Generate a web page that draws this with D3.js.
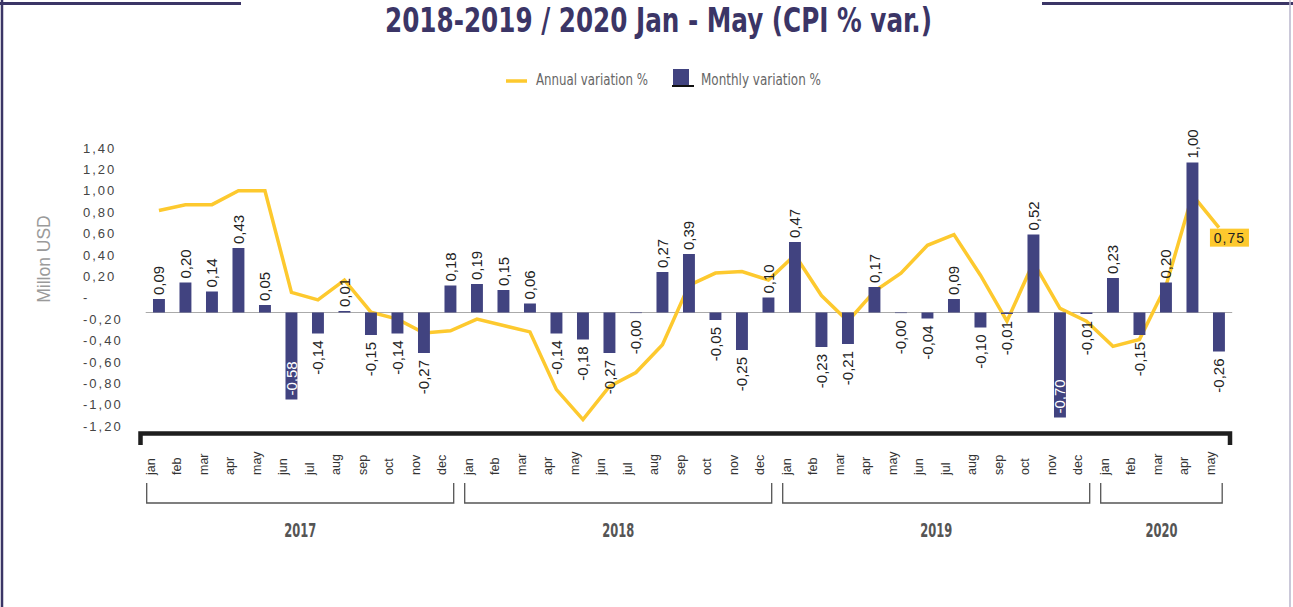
<!DOCTYPE html>
<html>
<head>
<meta charset="utf-8">
<script src="https://cdn.jsdelivr.net/npm/d3@7"></script>
<style>
  body { margin: 0; background: #fff; }
  svg { display: block; }
</style>
</head>
<body>
<script>
// Chart data
const years = ["2017", "2018", "2019", "2020"];
const monthNames = ["jan", "feb", "mar", "apr", "may", "jun", "jul", "aug", "sep", "oct", "nov", "dec"];
const monthsPerYear = [12, 12, 12, 5];

// Monthly variation % (bars)
const monthlyVar = [
    0.09, 0.20, 0.14, 0.43, 0.05, -0.58, -0.14, 0.01, -0.15, -0.14, -0.27, 0.18,
    0.19, 0.15, 0.06, -0.14, -0.18, -0.27, -0.004, 0.27, 0.39, -0.05, -0.25, 0.10,
    0.47, -0.23, -0.21, 0.17, -0.004, -0.04, 0.09, -0.10, -0.01, 0.52, -0.70, -0.01,
    0.23, -0.15, 0.20, 1.00, -0.26
];

// Annual variation % (line)
const annualVar = [
    0.815, 0.87, 0.87, 1.00, 1.00, 0.05, -0.02, 0.165, -0.135, -0.20, -0.33, -0.31,
    -0.20, -0.26, -0.32, -0.86, -1.14, -0.83, -0.70, -0.44, 0.115, 0.23, 0.245, 0.165,
    0.40, 0.02, -0.22, 0.06, 0.23, 0.49, 0.59, 0.21, -0.22, 0.33, -0.10, -0.22,
    -0.455, -0.39, 0.11, 0.96, 0.655
];

const yTicks = [1.4, 1.2, 1.0, 0.8, 0.6, 0.4, 0.2, 0, -0.2, -0.4, -0.6, -0.8, -1.0, -1.2];
const lastAnnualLabel = "0,75";

const titleText = "2018-2019 / 2020 Jan - May (CPI % var.)";
const yTitle = "Millon USD";
const legendAnnual = "Annual variation %";
const legendMonthly = "Monthly variation %";

const purple = "#3b3566";
const barColor = "#414380";
const lineColor = "#fdc92e";
const narrow = "'Liberation Sans Narrow', 'DejaVu Sans Condensed', sans-serif";
const sans = "'Liberation Sans', Arial, sans-serif";

// Build period list
const periods = years.flatMap((y, yi) =>
    monthNames.slice(0, monthsPerYear[yi]).map(m => ({ year: y, month: m })));

const fmt = v => (v < 0 ? "-" : "") + Math.abs(v).toFixed(2).replace(".", ",");

const svg = d3.select("body").append("svg")
    .attr("width", 1293)
    .attr("height", 607);

// Frame
svg.append("path").attr("d", "M0,3.5H241").attr("stroke", purple).attr("stroke-width", 3);
svg.append("path").attr("d", "M1042,3.5H1293").attr("stroke", purple).attr("stroke-width", 3);
svg.append("path").attr("d", "M2,0V607").attr("stroke", purple).attr("stroke-width", 2.5);
svg.append("path").attr("d", "M1290,0V607").attr("stroke", "#b8b6cc").attr("stroke-width", 1.5);

// Title
svg.append("text")
    .attr("x", 658.5)
    .attr("y", 32)
    .attr("text-anchor", "middle")
    .attr("textLength", 547)
    .attr("lengthAdjust", "spacingAndGlyphs")
    .style("font-family", narrow)
    .style("font-weight", "bold")
    .style("font-size", "33px")
    .style("fill", purple)
    .text(titleText);

// Legend
const legend = svg.append("g").style("font-family", narrow).style("font-size", "15px").style("fill", "#666");
legend.append("line").attr("x1", 506).attr("x2", 527).attr("y1", 81).attr("y2", 81)
    .attr("stroke", lineColor).attr("stroke-width", 3.5);
legend.append("text").attr("x", 536).attr("y", 85)
    .attr("textLength", 112).attr("lengthAdjust", "spacingAndGlyphs")
    .text(legendAnnual);
legend.append("rect").attr("x", 673).attr("y", 69).attr("width", 16).attr("height", 16).attr("fill", barColor);
legend.append("line").attr("x1", 672).attr("x2", 694).attr("y1", 86).attr("y2", 86)
    .attr("stroke", "#111").attr("stroke-width", 2);
legend.append("text").attr("x", 701).attr("y", 85)
    .attr("textLength", 120).attr("lengthAdjust", "spacingAndGlyphs")
    .text(legendMonthly);

// Scales
const x = d3.scaleBand()
    .domain(d3.range(periods.length))
    .range([145.7, 1232.2])
    .paddingInner(0.55)
    .paddingOuter(0.275);
const cx = i => x(i) + x.bandwidth() / 2;

const yBar = d3.scaleLinear().domain([-1, 1]).range([462.5, 162.5]);
const yLine = d3.scaleLinear().domain([-1.2, 1.4]).range([426, 148]);

// Y axis (left)
const yAxis = svg.append("g")
    .attr("transform", "translate(83,0)")
    .call(d3.axisLeft(yLine)
        .tickValues(yTicks)
        .tickSize(0)
        .tickFormat(d => d === 0 ? "-" : fmt(d)));
yAxis.select(".domain").remove();
yAxis.selectAll("text")
    .attr("x", 0)
    .style("text-anchor", "start")
    .style("font-family", sans)
    .style("font-size", "13px")
    .style("letter-spacing", "2px")
    .style("fill", "#444");

// Y axis title
svg.append("text")
    .attr("transform", "translate(50,259) rotate(-90)")
    .attr("text-anchor", "middle")
    .style("font-family", sans)
    .style("font-size", "17.5px")
    .style("fill", "#9a9a9a")
    .text(yTitle);

// Zero line for bars
svg.append("line")
    .attr("x1", x.range()[0]).attr("x2", x.range()[1])
    .attr("y1", yBar(0)).attr("y2", yBar(0))
    .attr("stroke", "#aaa").attr("stroke-width", 1);

// Annual variation line
svg.append("path")
    .datum(annualVar)
    .attr("fill", "none")
    .attr("stroke", lineColor)
    .attr("stroke-width", 3.5)
    .attr("d", d3.line().x((d, i) => cx(i)).y(d => yLine(d)));

// Monthly variation bars
svg.selectAll(".bar")
    .data(monthlyVar)
    .join("rect")
    .attr("class", "bar")
    .attr("x", (d, i) => x(i))
    .attr("width", x.bandwidth())
    .attr("y", d => yBar(Math.max(0, d)))
    .attr("height", d => Math.abs(yBar(d) - yBar(0)))
    .attr("fill", barColor);

// Bar value labels
svg.selectAll(".label")
    .data(monthlyVar)
    .join("text")
    .attr("class", "label")
    .attr("transform", (d, i) => {
        const bx = cx(i) + 5.5;
        if (d >= 0) return `translate(${bx},${yBar(d) - 4}) rotate(-90)`;
        if (d < -0.5) return `translate(${bx},${yBar(d) - 4}) rotate(-90)`;
        return `translate(${bx},${yBar(d) + 7}) rotate(-90)`;
    })
    .attr("text-anchor", d => (d >= 0 || d < -0.5) ? "start" : "end")
    .style("font-family", sans)
    .style("font-size", "15px")
    .style("fill", d => d < -0.5 ? "#fff" : "#222")
    .text(d => fmt(d));

// Thick black base axis
svg.append("path")
    .attr("d", `M140.5,445V433.5H1230V445`)
    .attr("fill", "none")
    .attr("stroke", "#1e1e1e")
    .attr("stroke-width", 4.5);

// Month labels
const xAxis = svg.append("g")
    .attr("transform", "translate(0,440)")
    .call(d3.axisBottom(x).tickSize(0).tickFormat(i => periods[i].month));
xAxis.select(".domain").remove();
xAxis.selectAll("text")
    .attr("transform", "rotate(-90)")
    .attr("x", -35)
    .attr("y", -4)
    .attr("dy", 0)
    .style("text-anchor", "start")
    .style("font-family", sans)
    .style("font-size", "12.5px")
    .style("fill", "#333");

// Year brackets and labels
let offset = 0;
years.forEach((yr, yi) => {
    const first = offset;
    const last = offset + monthsPerYear[yi] - 1;
    offset += monthsPerYear[yi];
    const left = x(first) - x.step() * x.paddingOuter() + 1;
    const right = x(last) + x.bandwidth() + x.step() * x.paddingOuter() - 10;
    svg.append("path")
        .attr("d", `M${left},483V503H${right}V483`)
        .attr("fill", "none")
        .attr("stroke", "#555")
        .attr("stroke-width", 1.3);
    svg.append("text")
        .attr("x", (left + right) / 2)
        .attr("y", 537)
        .attr("text-anchor", "middle")
        .attr("textLength", 32)
        .attr("lengthAdjust", "spacingAndGlyphs")
        .style("font-family", narrow)
        .style("font-weight", "bold")
        .style("font-size", "20px")
        .style("fill", "#555")
        .text(yr);
});

// Last annual value label
const li = annualVar.length - 1;
const lx = cx(li) - 9;
const ly = yLine(annualVar[li]) + 1;
svg.append("rect")
    .attr("x", lx).attr("y", ly)
    .attr("width", 39).attr("height", 18)
    .attr("fill", lineColor);
svg.append("text")
    .attr("x", lx + 19.5)
    .attr("y", ly + 14)
    .attr("text-anchor", "middle")
    .style("font-family", sans)
    .style("font-size", "14px")
    .style("letter-spacing", "1px")
    .style("fill", "#222")
    .text(lastAnnualLabel);
</script>
</body>
</html>
